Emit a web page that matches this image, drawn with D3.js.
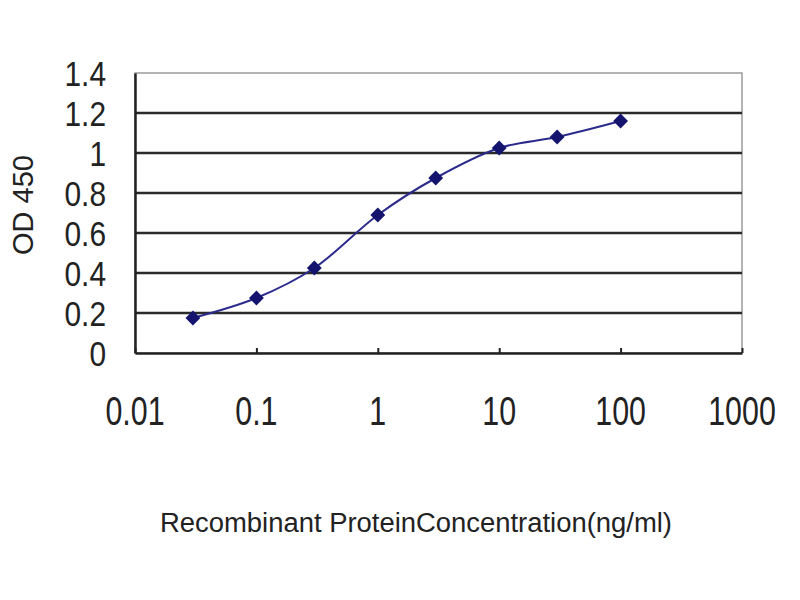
<!DOCTYPE html>
<html><head><meta charset="utf-8">
<script src="https://cdn.jsdelivr.net/npm/d3@7"></script>
<style>body{margin:0;background:#fff}svg{display:block}</style>
</head><body>
<script>
const concentrations = [0.03, 0.1, 0.3, 1, 3, 10, 30, 100];
const odValues = [0.175, 0.275, 0.425, 0.69, 0.875, 1.025, 1.08, 1.16];
const xTicks = [0.01, 0.1, 1, 10, 100, 1000];
const xTickLabels = ["0.01", "0.1", "1", "10", "100", "1000"];
const yTicks = [0, 0.2, 0.4, 0.6, 0.8, 1, 1.2, 1.4];
const yTickLabels = ["0", "0.2", "0.4", "0.6", "0.8", "1", "1.2", "1.4"];
const xTitle = "Recombinant ProteinConcentration(ng/ml)";
const yTitle = "OD 450";

const W = 800, H = 600;
const m = {left:135, right:58, top:73, bottom:247};
const svg = d3.select("body").append("svg").attr("width", W).attr("height", H);

const x = d3.scaleLog().domain([0.01, 1000]).range([m.left, W - m.right]);
const y = d3.scaleLinear().domain([0, 1.4]).range([H - m.bottom, m.top]);

// plot border (top/right light gray)
svg.append("rect").attr("x", x(0.01)).attr("y", y(1.4))
  .attr("width", x(1000) - x(0.01)).attr("height", y(0) - y(1.4))
  .attr("fill", "#fff").attr("stroke", "#9a9a9a").attr("stroke-width", 1.5);

// gridlines
svg.append("g").selectAll("line").data(yTicks.filter(d => d > 0 && d < 1.4)).join("line")
  .attr("x1", x(0.01)).attr("x2", x(1000))
  .attr("y1", d => y(d)).attr("y2", d => y(d))
  .attr("stroke", "#2a2a2a").attr("stroke-width", 2.5);

// axes
const yAxis = d3.axisLeft(y).tickValues(yTicks).tickFormat((d,i) => yTickLabels[i]).tickSize(0).tickPadding(0);
const gy = svg.append("g").attr("transform", `translate(${x(0.01)},0)`).call(yAxis);
gy.select(".domain").attr("stroke", "#222").attr("stroke-width", 2.5);
gy.selectAll("text").remove();
yTicks.forEach((d,i) => {
  svg.append("text").attr("transform", `translate(106,${y(d)+13}) scale(0.83,1)`)
    .attr("text-anchor", "end").attr("font-family", "Liberation Sans, Arial, sans-serif")
    .attr("font-size", 36).attr("fill", "#222").text(yTickLabels[i]);
});

const xAxis = d3.axisBottom(x).tickValues(xTicks).tickFormat((d,i) => xTickLabels[i]).tickSize(5).tickSizeOuter(0);
const gx = svg.append("g").attr("transform", `translate(0,${y(0)})`).call(xAxis);
gx.select(".domain").attr("stroke", "#222").attr("stroke-width", 2.5);
gx.selectAll(".tick line").attr("stroke", "#222").attr("stroke-width", 2).attr("y1", -5).attr("y2", 0);
gx.selectAll("text").remove();
xTicks.forEach((d,i) => {
  svg.append("text").attr("transform", `translate(${x(d)},${425}) scale(0.76,1)`)
    .attr("text-anchor", "middle").attr("font-family", "Liberation Sans, Arial, sans-serif")
    .attr("font-size", 40).attr("fill", "#222").text(xTickLabels[i]);
});

// titles
svg.append("text").attr("x", 416).attr("y", 532).attr("text-anchor", "middle")
  .attr("font-family", "Liberation Sans, Arial, sans-serif").attr("font-size", 27)
  .attr("fill", "#222").attr("textLength", 512).attr("lengthAdjust", "spacingAndGlyphs")
  .text(xTitle);
svg.append("text").attr("transform", "translate(33,205) rotate(-90)").attr("text-anchor", "middle")
  .attr("font-family", "Liberation Sans, Arial, sans-serif").attr("font-size", 29)
  .attr("fill", "#222").text(yTitle);

// line
const data = concentrations.map((c,i) => ({c, v: odValues[i]}));
const line = d3.line().x(d => x(d.c)).y(d => y(d.v)).curve(d3.curveCatmullRom.alpha(0.5));
svg.append("path").datum(data).attr("d", line).attr("fill", "none")
  .attr("stroke", "#2b2b8c").attr("stroke-width", 2);

// diamond markers
svg.append("g").selectAll("path").data(data).join("path")
  .attr("transform", d => `translate(${x(d.c)},${y(d.v)}) rotate(45)`)
  .attr("d", d3.symbol().type(d3.symbolSquare).size(110))
  .attr("fill", "#14146e");
</script>
</body></html>
